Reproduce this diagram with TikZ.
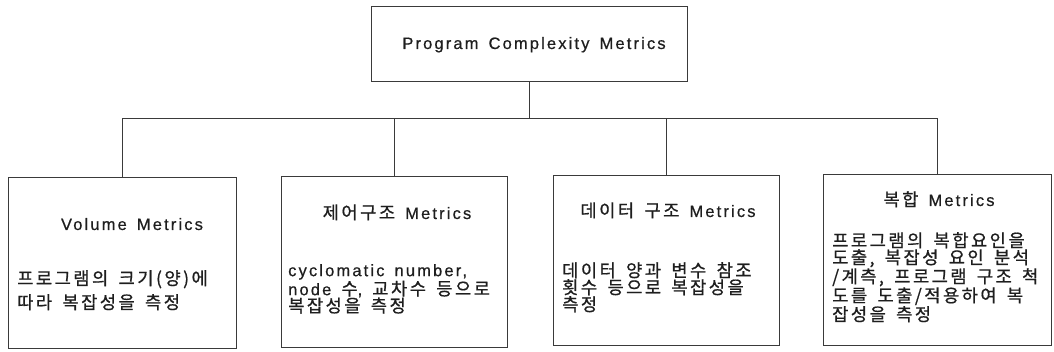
\documentclass[tikz,border=0pt]{standalone}
\usepackage{fontspec}
\setmainfont[LetterSpace=13, WordSpace=1.5, FakeBold=0.6]{Liberation Sans}
\newfontfamily\kr[LetterSpace=14, Scale=1.07, WordSpace=1.6, FakeBold=0.8]{Noto Sans CJK KR}
\definecolor{linec}{HTML}{3A3A3A}
\definecolor{txt}{HTML}{1E1E1E}
\tikzset{
  box/.style={draw=linec, line width=0.9pt, inner sep=0pt},
  ttl/.style={font=\fontsize{16.5}{18}\selectfont, text=txt, inner sep=0pt, anchor=base},
  body/.style={font=\fontsize{16.5}{17}\selectfont, text=txt, inner sep=0pt, anchor=north west, align=left},
  link/.style={draw=linec, line width=0.9pt},
}
\begin{document}
\begin{tikzpicture}[x=1pt,y=-1pt]
\useasboundingbox (0,0) rectangle (1054,352);
% boxes
\node[box, minimum width=316, minimum height=75] (top) at (529,43.5) {};
\node[box, minimum width=228, minimum height=171] (b1) at (122,262.5) {};
\node[box, minimum width=226, minimum height=171] (b2) at (394,261.5) {};
\node[box, minimum width=226, minimum height=170] (b3) at (666,260) {};
\node[box, minimum width=228, minimum height=171] (b4) at (937,259.5) {};
\coordinate (bus) at (529,118);
% connectors
\draw[link] (top.south) -- (top.south |- bus);
\draw[link] (b1.north) -- (b1.north |- bus) -- (b4.north |- bus) -- (b4.north);
\draw[link] (b2.north) -- (b2.north |- bus);
\draw[link] (b3.north) -- (b3.north |- bus);
% titles
\node[ttl] (t0) at (534,49) {Program Complexity Metrics};
\node[ttl] (t1) at (132,230) {Volume Metrics};
\node[ttl] (t2) at (397,219) {{\kr 제어구조} Metrics};
\node[ttl] (t3) at (668,217) {{\kr 데이터 구조} Metrics};
\node[ttl] (t4) at (939,206) {{\kr 복합} Metrics};
% bodies
\node[body, font=\fontsize{16.5}{24}\selectfont] (d1) at (17,270) {{\kr 프로그램의 크기(양)에}\\{\kr 따라 복잡성을 측정}};
\node[body] (d2) at (288,264) {cyclomatic number,\\node {\kr 수}, {\kr 교차수 등으로}\\{\kr 복잡성을 측정}};
\node[body] (d3) at (562,262) {{\kr 데이터 양과 변수 참조}\\{\kr 횟수 등으로 복잡성을}\\{\kr 측정}};
\node[body] (d4) at (832,232) {{\kr 프로그램의 복합요인을}\\{\kr 도출, 복잡성 요인 분석}\\{\kr /계측, 프로그램 구조 척}\\{\kr 도를 도출/적용하여 복}\\{\kr 잡성을 측정}};
\end{tikzpicture}
\end{document}
